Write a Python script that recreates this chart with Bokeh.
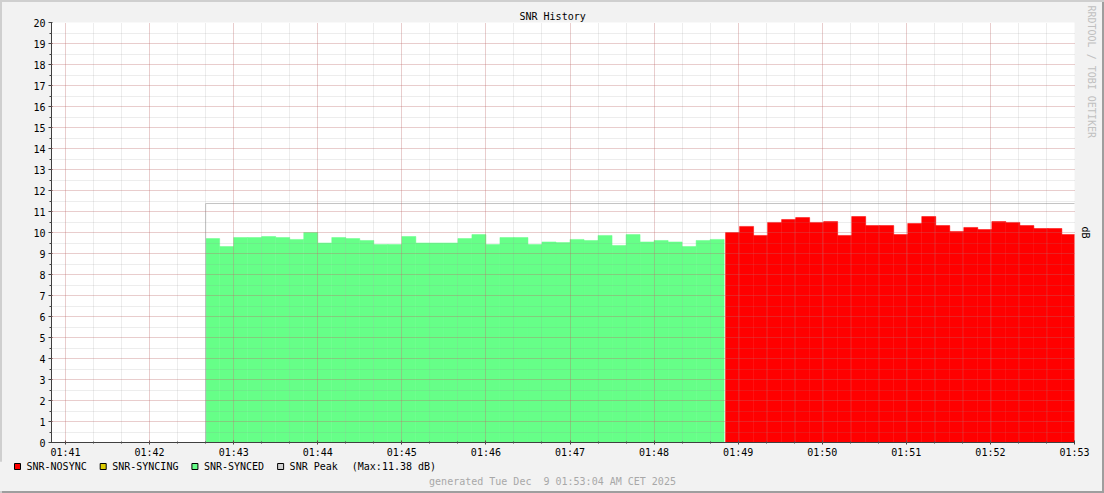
import numpy as np
from bokeh.plotting import figure
from bokeh.layouts import column
from bokeh.models import (Range1d, FixedTicker, Title, LinearAxis,
                          GlobalInlineStyleSheet)
from bokeh.core.properties import value
from bokeh.embed import file_html
from bokeh.resources import INLINE

# ---------------- data ----------------
STEP = 10  # seconds per sample
view_start = "01:40:50"
view_end = "01:53:00"
x_tick_labels = ["01:41", "01:42", "01:43", "01:44", "01:45", "01:46", "01:47",
                 "01:48", "01:49", "01:50", "01:51", "01:52", "01:53"]
y_tick_values = list(range(0, 21))

synced_start = "01:42:40"
synced_snr = [9.71, 9.33, 9.76, 9.76, 9.81, 9.76, 9.67, 10.0, 9.5, 9.76,
              9.71, 9.62, 9.43, 9.43, 9.81, 9.5, 9.5, 9.5, 9.71, 9.9,
              9.43, 9.76, 9.76, 9.43, 9.55, 9.52, 9.67, 9.62, 9.86, 9.38,
              9.9, 9.55, 9.62, 9.55, 9.33, 9.62, 9.67]

nosync_start = "01:48:51"
nosync_snr = [10.0, 10.29, 9.86, 10.48, 10.62, 10.71, 10.48, 10.52, 9.86, 10.76,
              10.33, 10.33, 9.9, 10.43, 10.76, 10.33, 10.05, 10.24, 10.14, 10.52,
              10.48, 10.33, 10.19, 10.19, 9.9]

peak_max = 11.38

legend_labels = ["SNR-NOSYNC", "SNR-SYNCING", "SNR-SYNCED", "SNR Peak"]
legend_colors = ["#FF0000", "#DDCC00", "#66FF88", "#D0D0D0"]

title_text = "SNR History"
unit_text = "dB"
footer_text = "generated Tue Dec \u00a09 01:53:04 AM CET 2025"
watermark_text = "RRDTOOL / TOBI OETIKER"


def to_sec(s):
    parts = [int(v) for v in s.split(":")]
    while len(parts) < 3:
        parts.append(0)
    return parts[0] * 3600 + parts[1] * 60 + parts[2]


MONO = "DejaVu Sans Mono"
CHAR_W = 6.02  # advance of 10px DejaVu Sans Mono
BG = "#F2F2F2"
W = 1100
LEFT, RIGHT = 49, 28

# ---------------- main figure ----------------
x0, x1 = to_sec(view_start), to_sec(view_end)

p = figure(width=W, height=459, output_backend="svg", toolbar_location=None,
           x_range=Range1d(x0, x1), y_range=Range1d(0, 20),
           min_border_left=LEFT, min_border_right=RIGHT, min_border_top=20,
           min_border_bottom=19,
           background_fill_color="white", border_fill_color=BG,
           outline_line_color=None)

# title (left aligned with an offset so it is centred on the whole image)
p.title.text = title_text
p.title.align = "left"
p.title.offset = 468
p.title.vertical_align = "middle"
p.title.standoff = 0
p.title.text_font = MONO
p.title.text_font_size = "10px"
p.title.text_font_style = "normal"
p.title.text_color = "black"

# ticks
x_ticks = [to_sec(t) for t in x_tick_labels]
x_minor = list(range(x_ticks[0], x1 + 1, 20))
p.xaxis.ticker = FixedTicker(ticks=x_ticks, minor_ticks=x_minor)
p.xaxis.major_label_overrides = {t: lbl for t, lbl in zip(x_ticks, x_tick_labels)}
p.yaxis.ticker = FixedTicker(ticks=y_tick_values,
                             minor_ticks=[v / 2 for v in range(0, 41)])

for ax in (p.xaxis[0], p.yaxis[0]):
    ax.axis_line_color = "#404040"
    ax.major_tick_line_color = "#404040"
    ax.minor_tick_line_color = "#404040"
    ax.major_label_text_font = MONO
    ax.major_label_text_font_size = "10px"
    ax.major_label_text_color = "black"

p.yaxis.major_tick_out = 3
p.yaxis.major_tick_in = 1
p.yaxis.minor_tick_out = 2
p.yaxis.minor_tick_in = 0
p.yaxis.major_label_standoff = 3

p.xaxis.major_tick_out = 2
p.xaxis.major_tick_in = 2
p.xaxis.minor_tick_out = 1
p.xaxis.minor_tick_in = 1
p.xaxis.major_label_standoff = 2

for g in (p.xgrid[0], p.ygrid[0]):
    g.grid_line_color = "#DE5050"
    g.grid_line_alpha = 0.4
    g.grid_line_dash = "1 1"
    g.minor_grid_line_color = "#8F8F8F"
    g.minor_grid_line_alpha = 0.32
    g.minor_grid_line_dash = "1 1"
    g.level = "annotation"

# areas
syn_t = to_sec(synced_start) + STEP * np.arange(len(synced_snr))
p.quad(left=syn_t, right=syn_t + STEP, bottom=0, top=synced_snr,
       fill_color=legend_colors[2], line_color=legend_colors[2], line_width=0.5)

nos_t = to_sec(nosync_start) + STEP * np.arange(len(nosync_snr))
p.quad(left=nos_t, right=nos_t + STEP, bottom=0, top=nosync_snr,
       fill_color=legend_colors[0], line_color=legend_colors[0], line_width=0.5)

# peak line
peak_x = [syn_t[0], syn_t[0], nos_t[-1] + STEP]
peak_y = [0, peak_max, peak_max]
p.line(peak_x, peak_y, line_color="#C4C4C4", line_width=1)

# right side: unit label (axis label) + watermark (title)
dbax = LinearAxis(ticker=FixedTicker(ticks=[]), axis_label=unit_text,
                  axis_label_standoff=5, axis_label_text_font=MONO,
                  axis_label_text_font_size="10px",
                  axis_label_text_font_style="normal",
                  axis_label_text_color="black",
                  axis_line_color=None, major_tick_line_color=None,
                  minor_tick_line_color=None, major_tick_out=0, major_tick_in=0,
                  minor_tick_out=0, minor_tick_in=0, major_label_standoff=0)
p.add_layout(dbax, "right")

wm = Title(text=watermark_text, align="left", vertical_align="bottom",
           offset=-17, standoff=-16, text_font=MONO, text_font_size="10px",
           text_font_style="normal", text_color="#C0C0C0")
p.add_layout(wm, "right")

# ---------------- legend / footer strip ----------------
# The column aligns this strip's frame with the main frame; a negative CSS
# margin moves that frame back to the page's left edge, so x here = page x.
LH = 30
lg = figure(width=W, height=LH, output_backend="svg", toolbar_location=None,
            x_range=Range1d(2, W - LEFT - RIGHT + 2), y_range=Range1d(0, LH),
            x_axis_type=None, y_axis_type=None,
            min_border_left=0, min_border_right=0, min_border_top=0,
            min_border_bottom=0, background_fill_color=BG,
            border_fill_color=BG, outline_line_color=None)
lg.grid.visible = False
lg.styles = {"margin-left": f"-{LEFT}px"}

row_y = LH - 5      # legend row, 5 px below the strip top
foot_y = LH - 20    # footer line

sq_x, txt_x = [], []
cx = 17.0
for lbl in legend_labels:
    sq_x.append(cx)
    txt_x.append(cx + 9)
    cx = cx + 9 + len(lbl) * CHAR_W + 16.5

lg.scatter(x=sq_x, y=[row_y] * len(sq_x), marker="square", size=6,
           fill_color=legend_colors, line_color="black", line_width=1)
lg.text(x=txt_x, y=[row_y] * len(txt_x), text=legend_labels,
        text_font=value(MONO), text_font_size=value("10px"),
        text_color="black", text_baseline="middle", text_align="left")

max_text = f"(Max:{peak_max:.2f} dB)"
lg.text(x=[txt_x[-1] + len(legend_labels[-1]) * CHAR_W + 14], y=[row_y],
        text=[max_text], text_font=value(MONO), text_font_size=value("10px"),
        text_color="black", text_baseline="middle", text_align="left")

lg.text(x=[552], y=[foot_y], text=[footer_text], text_font=value(MONO),
        text_font_size=value("10px"), text_color="#A8A8A8",
        text_baseline="middle", text_align="center")

layout = column(p, lg, spacing=0)
layout.styles = {"margin-left": "2px", "margin-top": "2px"}
layout.stylesheets = [GlobalInlineStyleSheet(css=(
    "html{background:#F2F2F2;overflow:hidden;"
    "box-shadow:inset 2px 2px 0 #CFCFCF, inset -2px -2px 0 #9E9E9E;}"
    "body{overflow:hidden;}"))]

open("out.html", "w").write(file_html(layout, INLINE))
